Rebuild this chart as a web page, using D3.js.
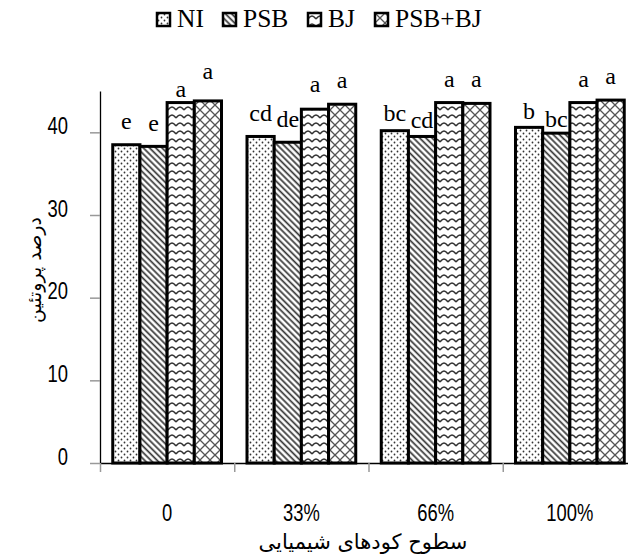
<!DOCTYPE html>
<html>
<head>
<meta charset="utf-8">
<script src="https://cdn.jsdelivr.net/npm/d3@7"></script>
<style>
  body { margin: 0; background: #fff; }
  svg { display: block; }
</style>
</head>
<body>
<script>
// data
const levels = ['0', '33%', '66%', '100%']
const series = ['NI', 'PSB', 'BJ', 'PSB+BJ']
const valNI   = [38.5, 39.5, 40.2, 40.6]
const valPSB  = [38.3, 38.8, 39.5, 39.9]
const valBJ   = [43.6, 42.8, 43.6, 43.6]
const valBoth = [43.8, 43.4, 43.5, 43.9]
// letter groups, and the height (in % units) where each letter sits
const letters = [
  ['e', 'e', 'a', 'a'],
  ['cd', 'de', 'a', 'a'],
  ['bc', 'cd', 'a', 'a'],
  ['b', 'bc', 'a', 'a']
]
const letterAt = [
  [40.4, 40.2, 44.3, 46.4],
  [41.4, 40.6, 44.9, 45.4],
  [41.4, 40.5, 45.5, 45.5],
  [41.6, 40.6, 45.5, 45.9]
]
const yTicks = [0, 10, 20, 30, 40]
const yTitle = 'درصد پروتئین'
const xTitle = 'سطوح کودهای شیمیایی'

const w = 628
const h = 559
const left = 100
const baseY = 463
const topY = 91

const numFont = "'Liberation Sans', Arial, sans-serif"
const serifFont = "'Liberation Serif', 'Times New Roman', serif"
const faFont = "'DejaVu Sans', sans-serif"

const values = [valNI, valPSB, valBJ, valBoth]
const rows = []
levels.forEach((lv, i) => {
  series.forEach((s, j) => {
    rows.push({ level: lv, s: s, v: values[j][i], txt: letters[i][j], at: letterAt[i][j] })
  })
})

const svg = d3.select('body')
  .append('svg')
  .attr('width', w)
  .attr('height', h)

// squeeze text into a narrow look (the original uses a condensed face)
const narrow = (sel, k) => {
  sel.each(function () {
    const len = this.getComputedTextLength()
    d3.select(this)
      .attr('textLength', len * k)
      .attr('lengthAdjust', 'spacingAndGlyphs')
  })
}

// fill patterns
const defs = svg.append('defs')
const ink = '#333'

const pDots = defs.append('pattern').attr('id', 'p-NI')
  .attr('patternUnits', 'userSpaceOnUse').attr('width', 6).attr('height', 6)
pDots.append('rect').attr('width', 6).attr('height', 6).attr('fill', '#fff')
pDots.append('circle').attr('cx', 1.5).attr('cy', 1.5).attr('r', 0.9).attr('fill', ink)
pDots.append('circle').attr('cx', 4.5).attr('cy', 4.5).attr('r', 0.9).attr('fill', ink)

const pDiag = defs.append('pattern').attr('id', 'p-PSB')
  .attr('patternUnits', 'userSpaceOnUse').attr('width', 4.4).attr('height', 10)
  .attr('patternTransform', 'rotate(-45)')
pDiag.append('rect').attr('width', 4.4).attr('height', 10).attr('fill', '#fff')
pDiag.append('line').attr('x1', 1.2).attr('x2', 1.2).attr('y1', 0).attr('y2', 10)
  .attr('stroke', ink).attr('stroke-width', 1.7)

const pWave = defs.append('pattern').attr('id', 'p-BJ')
  .attr('patternUnits', 'userSpaceOnUse').attr('width', 8).attr('height', 8)
pWave.append('rect').attr('width', 8).attr('height', 8).attr('fill', '#fff')
pWave.append('path').attr('d', 'M0,6 Q4,0 8,6')
  .attr('fill', 'none').attr('stroke', ink).attr('stroke-width', 1.4)

const pHatch = defs.append('pattern').attr('id', 'p-PSB+BJ')
  .attr('patternUnits', 'userSpaceOnUse').attr('width', 10).attr('height', 10)
pHatch.append('rect').attr('width', 10).attr('height', 10).attr('fill', '#fff')
pHatch.append('path').attr('d', 'M0,0 L10,10 M10,0 L0,10')
  .attr('fill', 'none').attr('stroke', '#555').attr('stroke-width', 1.3)

const fillOf = s => 'url(#p-' + s + ')'

// scales
const x0 = d3.scaleBand()
  .domain(levels)
  .range([left, left + 4 * 134.25])
  .paddingInner(0.19)
  .paddingOuter(0.095)

const x1 = d3.scaleBand()
  .domain(series)
  .range([0, x0.bandwidth()])

const xEdge = d3.scaleLinear()
  .domain([0, levels.length])
  .range([left, left + 4 * 134.25])

const y = d3.scaleLinear()
  .domain([0, 45])
  .range([baseY, topY])

// bars
svg.append('g')
  .selectAll('rect')
  .data(rows)
  .enter()
  .append('rect')
  .attr('x', d => x0(d.level) + x1(d.s))
  .attr('y', d => y(d.v))
  .attr('width', x1.bandwidth())
  .attr('height', d => y(0) - y(d.v))
  .attr('fill', d => fillOf(d.s))
  .attr('stroke', '#000')
  .attr('stroke-width', 3)

// letters above bars
svg.append('g')
  .selectAll('text')
  .data(rows)
  .enter()
  .append('text')
  .attr('font-family', serifFont)
  .attr('font-weight', 'normal')
  .attr('font-size', 24)
  .attr('x', d => x0(d.level) + x1(d.s) + x1.bandwidth() / 2)
  .attr('y', d => y(d.at))
  .attr('text-anchor', 'middle')
  .text(d => d.txt)

// y axis
const yAxis = d3.axisLeft(y)
  .tickValues(yTicks)
  .tickSize(10)
  .tickSizeOuter(0)
  .tickPadding(22)

const gy = svg.append('g')
  .attr('transform', 'translate(' + left + ',0)')
  .call(yAxis)
gy.attr('font-family', numFont).attr('font-size', 23)
gy.select('.domain').attr('stroke', '#000').attr('stroke-width', 1.3)
gy.selectAll('.tick line').attr('stroke', '#999').attr('stroke-width', 1.5)
gy.selectAll('.tick text')
  .attr('fill', '#000')
  .attr('dy', '0.05em')
  .call(narrow, 0.8)

// x axis: boundary ticks
const xAxis = d3.axisBottom(xEdge)
  .tickValues(d3.range(levels.length + 1))
  .tickFormat('')
  .tickSize(9)
  .tickSizeOuter(0)

const gx = svg.append('g')
  .attr('transform', 'translate(0,' + baseY + ')')
  .call(xAxis)
gx.select('.domain').attr('stroke', '#000').attr('stroke-width', 1.3)
gx.selectAll('.tick line').attr('stroke', '#999').attr('stroke-width', 1.5)

// category labels
const xLab = d3.axisBottom(x0.copy().paddingInner(0).paddingOuter(0))
  .tickSize(0)
  .tickPadding(42)

const gl = svg.append('g')
  .attr('transform', 'translate(0,' + baseY + ')')
  .call(xLab)
gl.attr('font-family', numFont).attr('font-size', 23)
gl.select('.domain').remove()
gl.selectAll('.tick text')
  .attr('fill', '#000')
  .call(narrow, 0.8)

// axis titles
svg.append('text')
  .attr('font-family', faFont)
  .attr('font-size', 19)
  .attr('text-anchor', 'middle')
  .attr('transform', 'translate(41,270) rotate(-90)')
  .text(yTitle)

svg.append('text')
  .attr('font-family', faFont)
  .attr('font-size', 21)
  .attr('text-anchor', 'middle')
  .attr('x', 363)
  .attr('y', 549)
  .text(xTitle)

// legend
const legendX = [157, 223, 308, 375]
const lg = svg.append('g')
  .selectAll('g')
  .data(series)
  .enter()
  .append('g')
  .attr('transform', (d, i) => 'translate(' + legendX[i] + ',13)')

lg.append('rect')
  .attr('width', 13)
  .attr('height', 13)
  .attr('fill', d => fillOf(d))
  .attr('stroke', '#000')
  .attr('stroke-width', 2.5)

lg.append('text')
  .attr('font-family', serifFont)
  .attr('font-weight', 'normal')
  .attr('font-size', 25.5)
  .attr('x', 20)
  .attr('y', 14)
  .text(d => d)
</script>
</body>
</html>
